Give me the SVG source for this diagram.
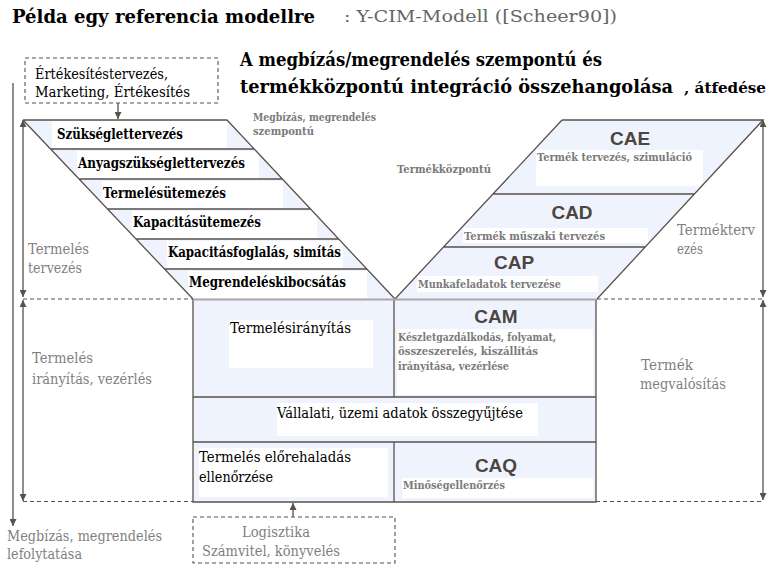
<svg xmlns="http://www.w3.org/2000/svg" width="781" height="570" viewBox="0 0 781 570">
<defs>
<style>
.ln{stroke:#5a514b;stroke-width:1.3;fill:none}
.dash{stroke:#5a514b;stroke-width:1.1;fill:none;stroke-dasharray:4,3}
.blue{fill:#eef3fe}
.wb{fill:#ffffff}
.sf{font-family:DejaVu Serif, serif}
.t{font-weight:bold;font-size:14.5px;fill:#000}
.r{font-size:14.5px;fill:#000}
.g{font-weight:bold;font-size:11.5px;fill:#7a7a7a}
.gl{font-size:15px;fill:#7f7f7f}
.ca{font-family:Liberation Sans, sans-serif;font-weight:bold;font-size:19px;fill:#4d4540;text-anchor:middle}
.h{font-weight:bold;fill:#000}
</style>
<marker id="ah" viewBox="0 0 10 10" refX="10" refY="5" markerWidth="7" markerHeight="7" orient="auto-start-reverse" markerUnits="userSpaceOnUse">
<path d="M0,0 L10,5 L0,10 z" fill="#5a514b"/>
</marker>
</defs>
<rect width="781" height="570" fill="#fff"/>

<g id="title" class="sf">
<text class="h" x="12" y="23" font-size="19" textLength="303" lengthAdjust="spacingAndGlyphs">Példa egy referencia modellre</text>
<text x="344" y="22" font-size="17.5" fill="#666" textLength="273" lengthAdjust="spacingAndGlyphs">: Y-CIM-Modell ([Scheer90])</text>
<text class="h" x="240" y="66" font-size="18.5" textLength="362" lengthAdjust="spacingAndGlyphs">A megbízás/megrendelés szempontú és</text>
<text class="h" x="240" y="93" font-size="18" textLength="433" lengthAdjust="spacingAndGlyphs">termékközpontú integráció összehangolása</text>
<text class="h" x="684" y="93" font-size="15" textLength="82" lengthAdjust="spacingAndGlyphs">, átfedése</text>
</g>

<g id="sales" class="sf">
<rect x="25" y="58" width="193" height="45" fill="#fff" class="dash"/>
<text class="r" x="35" y="79" textLength="133" lengthAdjust="spacingAndGlyphs">Értékesítéstervezés,</text>
<text class="r" x="35" y="97" textLength="155" lengthAdjust="spacingAndGlyphs">Marketing, Értékesítés</text>
</g>

<g id="order-planning" class="sf">
<polygon class="blue" points="23,120 227,120 395,299 193,299"/>
<rect class="wb" x="52" y="121" width="175" height="27"/>
<rect class="wb" x="77" y="151" width="182" height="27"/>
<rect class="wb" x="102" y="181" width="181" height="27"/>
<rect class="wb" x="132" y="211" width="185" height="27"/>
<rect class="wb" x="167" y="241" width="176" height="27"/>
<rect class="wb" x="188" y="271" width="179" height="27"/>
<path class="ln" d="M23,120 H227 L395,299 M23,120 L193,299 M50.5,149 H254 M79,179 H282 M107.5,209 H310.5 M136,239 H339 M164.5,269 H367"/>
<text class="t" x="57" y="139" textLength="126" lengthAdjust="spacingAndGlyphs">Szükséglettervezés</text>
<text class="t" x="78" y="168" textLength="167" lengthAdjust="spacingAndGlyphs">Anyagszükséglettervezés</text>
<text class="t" x="103" y="198" textLength="123" lengthAdjust="spacingAndGlyphs">Termelésütemezés</text>
<text class="t" x="133" y="227" textLength="128" lengthAdjust="spacingAndGlyphs">Kapacitásütemezés</text>
<text class="t" x="168" y="257" textLength="173" lengthAdjust="spacingAndGlyphs">Kapacitásfoglalás, simítás</text>
<text class="t" x="189" y="287" textLength="157" lengthAdjust="spacingAndGlyphs">Megrendeléskibocsátás</text>
</g>

<g id="product-planning" class="sf">
<polygon class="blue" points="562,120 763,120 597,299 395,299"/>
<rect class="wb" x="536" y="150" width="167" height="36"/>
<rect class="wb" x="463" y="228" width="185" height="15"/>
<rect class="wb" x="417" y="276" width="181" height="16"/>
<path class="ln" d="M562,120 H763 L597,299 M562,120 L395,299 M493,194 H694 M443.5,247 H645"/>
<text class="ca" x="630" y="145">CAE</text>
<text class="g" x="537" y="161" textLength="155" lengthAdjust="spacingAndGlyphs">Termék tervezés, szimuláció</text>
<text class="ca" x="572" y="219">CAD</text>
<text class="g" x="464" y="240" textLength="141" lengthAdjust="spacingAndGlyphs">Termék műszaki tervezés</text>
<text class="ca" x="514" y="269">CAP</text>
<text class="g" x="418" y="288" textLength="143" lengthAdjust="spacingAndGlyphs">Munkafeladatok tervezése</text>
</g>

<g id="realisation" class="sf">
<rect class="blue" x="193" y="299" width="403" height="203"/>
<rect class="wb" x="229" y="320" width="144" height="48"/>
<rect class="wb" x="397" y="329" width="196" height="66"/>
<rect class="wb" x="277" y="403" width="261" height="33"/>
<rect class="wb" x="199" y="448" width="189" height="49"/>
<rect class="wb" x="402" y="478" width="191" height="20"/>
<path class="ln" d="M193,299 V502 H596 V299 M193,397 H596 M193,442 H596 M394,299 V397 M394,442 V502"/>
<line x1="193" y1="299.5" x2="596" y2="299.5" stroke="#a8a8a8" stroke-width="2"/>
<text class="r" x="230" y="333" textLength="121" lengthAdjust="spacingAndGlyphs">Termelésirányítás</text>
<text class="ca" x="496" y="323">CAM</text>
<text class="g" x="398" y="341" textLength="158" lengthAdjust="spacingAndGlyphs">Készletgazdálkodás, folyamat,</text>
<text class="g" x="398" y="355" textLength="140" lengthAdjust="spacingAndGlyphs">összeszerelés, kiszállítás</text>
<text class="g" x="398" y="370" textLength="111" lengthAdjust="spacingAndGlyphs">irányítása, vezérlése</text>
<text class="r" x="277" y="418" textLength="246" lengthAdjust="spacingAndGlyphs">Vállalati, üzemi adatok összegyűjtése</text>
<text class="r" x="199" y="462" textLength="152" lengthAdjust="spacingAndGlyphs">Termelés előrehaladás</text>
<text class="r" x="199" y="482" textLength="74" lengthAdjust="spacingAndGlyphs">ellenőrzése</text>
<text class="ca" x="496" y="472">CAQ</text>
<text class="g" x="403" y="489" textLength="102" lengthAdjust="spacingAndGlyphs">Minőségellenőrzés</text>
</g>

<g id="logistics" class="sf">
<rect x="193" y="517" width="202" height="46" fill="#f3f6fd" class="dash"/>
<rect class="wb" x="200" y="523" width="178" height="15"/>
<rect class="wb" x="200" y="540" width="190" height="15"/>
<text class="gl" x="242" y="537" font-size="14.5" textLength="68" lengthAdjust="spacingAndGlyphs">Logisztika</text>
<text class="gl" x="202" y="556" font-size="14.5" textLength="138" lengthAdjust="spacingAndGlyphs">Számvitel, könyvelés</text>
</g>

<g id="labels" class="sf">
<text class="g" x="253" y="121" textLength="123" lengthAdjust="spacingAndGlyphs">Megbízás, megrendelés</text>
<text class="g" x="253" y="135" textLength="61" lengthAdjust="spacingAndGlyphs">szempontú</text>
<text class="g" x="397" y="173" font-size="12" textLength="94" lengthAdjust="spacingAndGlyphs">Termékközpontú</text>
<text class="gl" x="28" y="254" textLength="61" lengthAdjust="spacingAndGlyphs">Termelés</text>
<text class="gl" x="28" y="273" textLength="54" lengthAdjust="spacingAndGlyphs">tervezés</text>
<text class="gl" x="32" y="363" textLength="61" lengthAdjust="spacingAndGlyphs">Termelés</text>
<text class="gl" x="32" y="384" textLength="120" lengthAdjust="spacingAndGlyphs">irányítás, vezérlés</text>
<text class="gl" x="7" y="541" textLength="155" lengthAdjust="spacingAndGlyphs">Megbízás, megrendelés</text>
<text class="gl" x="7" y="559" textLength="75" lengthAdjust="spacingAndGlyphs">lefolytatása</text>
<text class="gl" x="677" y="235" textLength="78" lengthAdjust="spacingAndGlyphs">Termékterv</text>
<text class="gl" x="677" y="254" textLength="26" lengthAdjust="spacingAndGlyphs">ezés</text>
<text class="gl" x="641" y="370" textLength="52" lengthAdjust="spacingAndGlyphs">Termék</text>
<text class="gl" x="640" y="389" textLength="86" lengthAdjust="spacingAndGlyphs">megvalósítás</text>
</g>

<g id="connectors">
<line class="ln" x1="118" y1="103" x2="118" y2="119" marker-end="url(#ah)"/>
<line class="ln" x1="293" y1="517" x2="293" y2="503" marker-end="url(#ah)"/>
<line class="ln" x1="13" y1="83" x2="13" y2="526" marker-end="url(#ah)"/>
<line class="ln" x1="23" y1="120" x2="23" y2="297" marker-start="url(#ah)" marker-end="url(#ah)"/>
<line class="ln" x1="23" y1="300" x2="23" y2="501" marker-start="url(#ah)" marker-end="url(#ah)"/>
<line class="ln" x1="763" y1="120" x2="763" y2="297" marker-start="url(#ah)" marker-end="url(#ah)"/>
<line class="ln" x1="763" y1="300" x2="763" y2="500" marker-start="url(#ah)" marker-end="url(#ah)"/>
<path class="dash" d="M23,299 H193 M597,299 H763 M23,501.5 H193 M596,501.5 H763"/>
</g>
</svg>
